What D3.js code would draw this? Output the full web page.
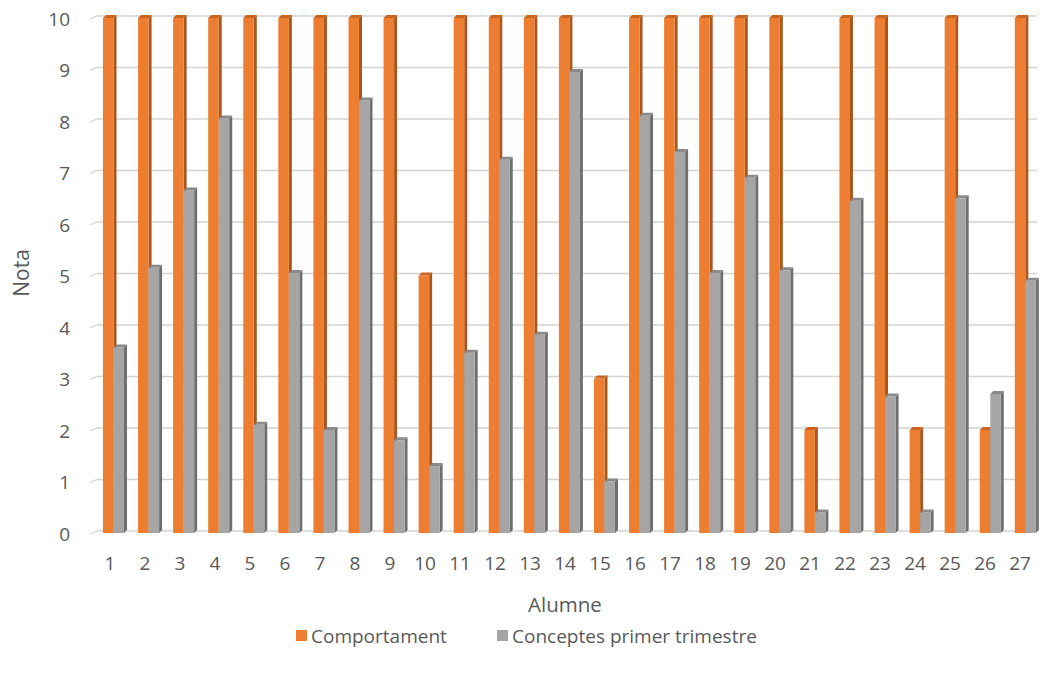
<!DOCTYPE html>
<html>
<head>
<meta charset="utf-8">
<script src="https://cdn.jsdelivr.net/npm/d3@7"></script>
<style>
  html, body { margin: 0; padding: 0; background: #fff; }
  svg { display: block; font-family: "Open Sans", "Liberation Sans", sans-serif; }
</style>
</head>
<body>
<svg id="chart" width="1040" height="675"></svg>
<script>
// Student grades: behaviour vs. first-term concepts
const alumnes = d3.range(1, 28).map(String);
const comportament = [10,10,10,10,10,10,10,10,10,5,10,10,10,10,3,10,10,10,10,10,2,10,10,2,10,2,10];
const conceptes = [3.6,5.15,6.65,8.05,2.1,5.05,2.0,8.4,1.8,1.3,3.5,7.25,3.85,8.95,1.0,8.1,7.4,5.05,6.9,5.1,0.4,6.45,2.65,0.4,6.5,2.7,4.9];
const yTicks = d3.range(0, 11);
const seriesNames = ["Comportament", "Conceptes primer trimestre"];

const palette = {
  orange: { front: "#ED7D31", side: "#A9561F", top: "#C9651F" },
  gray:   { front: "#A5A5A5", side: "#6F6F6F", top: "#8A8A8A" }
};

const svg = d3.select("#chart");
const depth = 3;          // pseudo-3D offset of bar side/top faces
const wallDx = 7, wallDy = 3;

const x = d3.scaleBand().domain(alumnes).range([93.5, 1038.5]);
const y = d3.scaleLinear().domain([0, 10]).range([533, 18]);

// Back-wall gridlines with a short slanted floor edge on the left
const grid = svg.append("g");
yTicks.forEach(t => {
  const yy = y(t);
  grid.append("path")
    .attr("d", `M90,${yy + 1} L${90 + wallDx},${yy - wallDy + 1} L1037,${yy - wallDy + 1}`)
    .attr("fill", "none")
    .attr("stroke", "#D4D4D4")
    .attr("stroke-width", 1.3);
});

// Y axis tick labels
const yAxis = d3.axisLeft(y).tickValues(yTicks).tickSize(0).tickPadding(0);
svg.append("g")
  .attr("transform", "translate(70,1)")
  .call(yAxis)
  .call(g => g.select(".domain").remove())
  .call(g => g.selectAll("text")
    .attr("fill", "#595959")
    .style("font-size", "19px")
    .style("font-family", "'Open Sans', sans-serif"));

// X axis category labels
const xAxis = d3.axisBottom(x).tickSize(0).tickPadding(0);
svg.append("g")
  .attr("transform", "translate(-1,556)")
  .call(xAxis)
  .call(g => g.select(".domain").remove())
  .call(g => g.selectAll("text")
    .attr("fill", "#595959")
    .style("font-size", "19px")
    .style("font-family", "'Open Sans', sans-serif"));

// Axis titles
svg.append("text")
  .attr("transform", "translate(29,273) rotate(-90)")
  .attr("text-anchor", "middle")
  .attr("fill", "#595959")
  .style("font-size", "21px")
  .text("Nota");

svg.append("text")
  .attr("x", 565).attr("y", 612)
  .attr("text-anchor", "middle")
  .attr("fill", "#595959")
  .style("font-size", "20.5px")
  .text("Alumne");

// Draw a pseudo-3D column: side face, top face, front face
function drawBar(g, x0, w, value, colors) {
  const yt = y(value), yb = y(0);
  g.append("path")
    .attr("d", `M${x0 + w},${yt} L${x0 + w + depth},${yt - depth} L${x0 + w + depth},${yb - depth} L${x0 + w},${yb} Z`)
    .attr("fill", colors.side);
  g.append("path")
    .attr("d", `M${x0},${yt} L${x0 + depth},${yt - depth} L${x0 + w + depth},${yt - depth} L${x0 + w},${yt} Z`)
    .attr("fill", colors.top);
  g.append("rect")
    .attr("x", x0).attr("y", yt)
    .attr("width", w).attr("height", yb - yt)
    .attr("fill", colors.front);
}

const bars = svg.append("g");
const barW = 10.5;
alumnes.forEach((a, i) => {
  const c = x(a) + x.bandwidth() / 2;
  const g = bars.append("g");
  drawBar(g, c - 8 + i * 0.07, barW, comportament[i], palette.orange);
  drawBar(g, c + 2.5 + i * 0.07, barW, conceptes[i], palette.gray);
});

// Legend
const legend = svg.append("g").attr("transform", "translate(0,636)");
const legendItems = [
  { name: seriesNames[0], color: palette.orange.front, x: 296 },
  { name: seriesNames[1], color: palette.gray.front, x: 497 }
];
legendItems.forEach(d => {
  legend.append("rect")
    .attr("x", d.x).attr("y", -6)
    .attr("width", 11).attr("height", 11)
    .attr("fill", d.color);
  legend.append("text")
    .attr("x", d.x + 15).attr("y", 0)
    .attr("dy", "0.35em")
    .attr("fill", "#595959")
    .style("font-size", "19px")
    .text(d.name);
});
</script>
</body>
</html>
